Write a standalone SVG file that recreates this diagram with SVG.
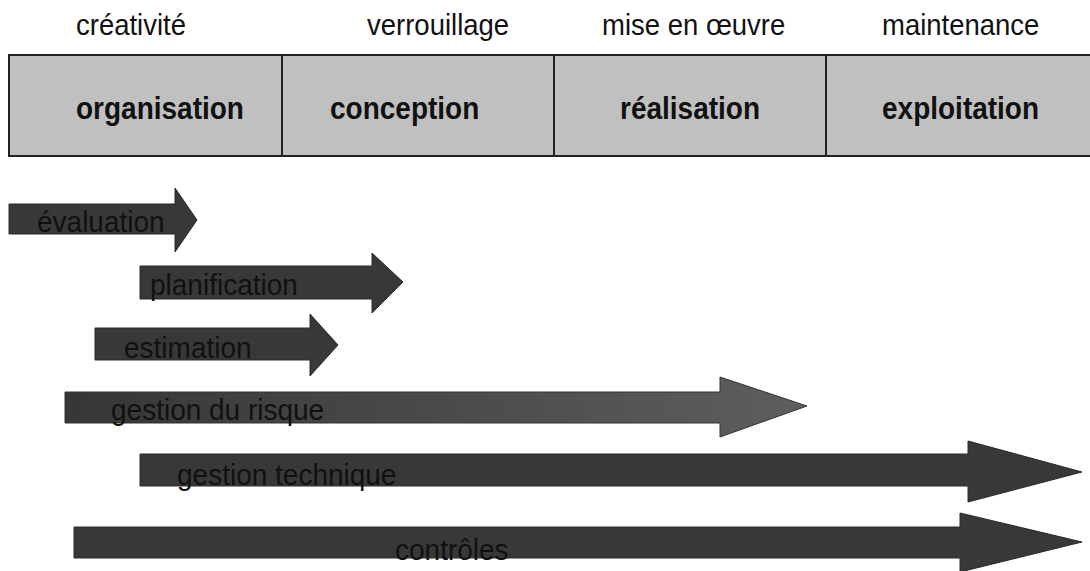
<svg xmlns="http://www.w3.org/2000/svg" width="1090" height="571" viewBox="0 0 1090 571">
<style>
.top{font-family:"Liberation Sans",Arial,sans-serif;font-size:27.5px;fill:#111}
.hdr{font-family:"Liberation Sans",Arial,sans-serif;font-size:28px;font-weight:bold;fill:#111}
.lbl{font-family:"Liberation Sans",Arial,sans-serif;font-size:28px;fill:#111}
.cell{fill:#c0c0c0;stroke:#222;stroke-width:2}
.arr{fill:#383838;stroke:#2a2a2a;stroke-width:1}
</style>
<defs>
<linearGradient id="risk" x1="0" y1="0" x2="1" y2="0">
<stop offset="0" stop-color="#363636"/>
<stop offset="1" stop-color="#5e5e5e"/>
</linearGradient>
</defs>
<rect width="1090" height="571" fill="#fff"/>
<g id="phase-labels">
<text class="top" transform="translate(76,35) scale(1,1.08)">créativité</text>
<text class="top" transform="translate(367,35) scale(1,1.08)">verrouillage</text>
<text class="top" transform="translate(602,35) scale(1,1.08)">mise en œuvre</text>
<text class="top" transform="translate(882,35) scale(1,1.08)">maintenance</text>
</g>
<g id="organisation">
<rect class="cell" x="9" y="55" width="273" height="101"/>
<text class="hdr" transform="translate(76,119) scale(1,1.12)">organisation</text>
</g>
<g id="conception">
<rect class="cell" x="282" y="55" width="272" height="101"/>
<text class="hdr" transform="translate(330,119) scale(1,1.12)">conception</text>
</g>
<g id="realisation">
<rect class="cell" x="554" y="55" width="272" height="101"/>
<text class="hdr" transform="translate(620,119) scale(1,1.12)">réalisation</text>
</g>
<g id="exploitation">
<rect class="cell" x="826" y="55" width="266" height="101"/>
<text class="hdr" transform="translate(882,119) scale(1,1.12)">exploitation</text>
</g>
<g id="connectors">
<g id="evaluation">
<polygon class="arr" points="9,204 175,204 175,188 197,220 175,252 175,234 9,234"/>
<text class="lbl" transform="translate(37,232) scale(1,1.06)">évaluation</text>
</g>
<g id="planification">
<polygon class="arr" points="140,266 372,266 372,253 403,282 372,313 372,299 140,299"/>
<text class="lbl" transform="translate(150,295) scale(1,1.06)">planification</text>
</g>
<g id="estimation">
<polygon class="arr" points="95,328 310,328 310,314 338,345 310,376 310,360 95,360"/>
<text class="lbl" transform="translate(124,358) scale(1,1.06)">estimation</text>
</g>
<g id="gestion-risque">
<polygon points="65,392 720,392 720,377 807,406 720,437 720,423 65,423" fill="url(#risk)" stroke="#333" stroke-width="1"/>
<text class="lbl" transform="translate(111,420) scale(1,1.06)">gestion du risque</text>
</g>
<g id="gestion-technique">
<polygon class="arr" points="140,454 968,454 968,441 1082,472 968,502 968,486 140,486"/>
<text class="lbl" transform="translate(177,485) scale(1,1.06)">gestion technique</text>
</g>
<g id="controles">
<polygon class="arr" points="74,527 960,527 960,513 1082,542 960,572 960,558 74,558"/>
<text class="lbl" transform="translate(395,560) scale(1,1.06)">contrôles</text>
</g>
</g>
</svg>
